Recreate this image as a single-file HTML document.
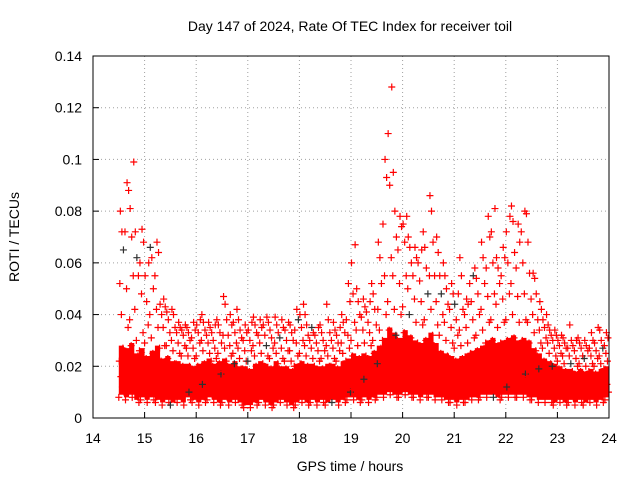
<!DOCTYPE html>
<html><head><meta charset="utf-8"><style>
body{margin:0;background:#fff;}
svg{display:block;font-family:"Liberation Sans",sans-serif;}
</style></head><body>
<svg id="chart" width="640" height="480">
<text x="350" y="31" font-size="14" text-anchor="middle">Day 147 of 2024, Rate Of TEC Index for receiver toil</text>
<text x="350" y="471" font-size="14" text-anchor="middle">GPS time / hours</text>
<text transform="translate(19,237) rotate(-90)" font-size="14" text-anchor="middle">ROTI / TECUs</text>
<g id="grid"></g><g id="marks"></g><g id="axes"></g>
</svg>
<script>
const xTicks=[14,15,16,17,18,19,20,21,22,23,24];
const yTicks=[0,0.02,0.04,0.06,0.08,0.1,0.12,0.14];
const yTickLabels=["0","0.02","0.04","0.06","0.08","0.1","0.12","0.14"];
const binStart=14.5, binWidth=0.1;
// ROTI values per 0.1 h bin, in 1e-3 TECU/min
const rotiMilli=[
[8,12,16,22,27,40,52,65,72,80],[7,10,14,19,26,35,50,72,88,91],[8,11,15,20,28,38,55,70,81,99],[6,10,13,18,24,30,42,55,62,72],[7,11,14,20,26,33,48,60,68,73],
[6,9,13,17,23,29,36,45,55,60],[7,10,14,19,25,31,40,50,62,66],[6,11,15,20,27,35,42,55,64,68],[5,9,12,17,22,28,35,40,44,46],[6,10,14,18,23,28,33,38,41,43],
[5,8,12,16,21,26,30,35,40,42],[6,9,13,17,21,25,29,33,35,37],[5,9,12,16,20,24,28,32,34,36],[7,10,13,17,20,24,27,30,33,35],[6,9,12,15,19,23,27,31,34,37],
[5,8,12,16,20,24,29,33,36,38],[6,10,13,17,21,26,30,34,37,40],[7,10,14,18,22,25,29,32,35,37],[6,9,12,16,20,23,27,30,33,36],[5,9,13,17,21,25,29,33,36,38],
[6,10,14,18,22,27,32,38,44,47],[5,8,12,16,20,24,28,32,36,40],[6,9,13,17,21,25,29,33,37,42],[5,8,11,15,19,23,27,31,34,38],[4,8,11,15,19,22,26,30,33,36],
[4,7,11,14,18,22,26,30,34,37],[5,9,12,16,20,24,28,33,36,39],[6,10,13,17,21,25,29,32,35,38],[5,8,12,16,20,24,28,32,36,39],[4,8,12,15,19,23,27,31,34,37],
[5,9,13,17,21,25,29,33,36,39],[6,9,12,16,19,23,27,31,35,38],[5,8,12,15,19,22,26,30,34,37],[4,8,11,15,18,22,26,30,33,36],[5,9,12,16,20,24,29,34,38,42],
[6,10,13,17,21,25,30,35,40,44],[5,9,12,16,20,24,28,32,36,40],[6,9,13,16,20,23,27,30,33,35],[5,8,12,15,19,22,26,29,32,35],[6,9,12,16,19,23,26,30,33,36],
[5,9,12,16,20,24,28,33,38,44],[6,9,13,16,20,23,27,30,34,37],[5,8,12,15,19,22,26,29,32,35],[6,10,13,17,21,25,29,33,37,40],[7,10,14,18,22,27,32,38,45,52],
[7,11,15,19,24,30,37,48,60,67],[6,10,14,18,23,28,34,40,45,50],[7,11,15,19,24,29,34,39,43,46],[6,10,14,18,23,28,33,37,41,45],[7,11,15,20,25,30,36,42,48,52],
[8,12,16,21,27,34,42,52,62,68],[8,12,17,22,30,40,55,75,93,100],[9,13,18,24,34,45,62,90,110,128],[8,12,17,23,32,42,55,70,80,95],[8,12,16,22,30,40,52,65,74,78],
[9,13,18,25,33,43,55,68,75,78],[8,12,17,23,31,40,50,60,66,70],[8,12,16,22,29,37,46,55,62,66],[7,11,16,21,28,36,45,53,60,65],[8,12,17,23,30,38,48,58,66,72],
[8,12,17,24,32,42,55,68,80,86],[7,11,15,21,28,36,45,55,64,70],[7,10,14,19,25,32,40,48,55,60],[6,10,14,18,24,30,37,44,50,55],[6,10,14,18,23,29,35,42,48,52],
[5,9,13,17,22,27,32,38,44,48],[6,10,14,18,23,28,34,42,55,62],[6,10,14,19,24,29,35,40,44,46],[7,11,15,20,25,31,38,45,52,55],[7,11,15,20,26,32,40,48,54,58],
[8,12,16,21,27,34,42,52,62,68],[8,12,17,22,29,37,47,58,70,78],[8,12,17,23,30,38,48,60,72,81],[7,11,16,21,28,35,44,52,58,62],[8,12,16,22,29,37,46,55,62,66],
[8,12,17,23,30,38,48,60,72,78],[8,12,17,23,31,40,52,64,76,82],[8,12,16,22,29,37,47,58,68,75],[8,12,17,23,30,38,48,60,72,80],[7,11,16,22,29,37,46,56,68,79],
[7,11,15,20,26,33,40,48,54,56],[6,10,14,19,24,29,34,38,42,45],[6,10,13,17,22,27,31,35,38,40],[6,9,13,17,21,25,29,32,34,36],[5,9,12,16,20,24,27,30,32,34],
[6,9,12,15,19,22,25,28,30,32],[5,8,11,14,18,21,24,27,29,31],[6,9,12,15,18,21,24,27,30,36],[5,8,11,14,17,20,23,26,28,30],[6,9,12,15,18,21,24,27,29,31],
[5,8,11,14,17,20,23,26,28,30],[6,9,12,15,18,21,24,27,30,33],[5,8,11,14,17,20,23,26,29,35],[6,9,12,15,18,21,24,27,30,34],[7,10,13,16,19,22,25,28,31,33]
];
const NS="http://www.w3.org/2000/svg";
const L=93,R=609,T=56,B=418;
function xs(v){return L+(v-14)/(24-14)*(R-L);}
function ys(v){return B-(v/0.14)*(B-T);}
function mk(tag,attrs,parent){const e=document.createElementNS(NS,tag);for(const k in attrs)e.setAttribute(k,attrs[k]);parent.appendChild(e);return e;}
const grid=document.getElementById('grid'),marks=document.getElementById('marks'),axes=document.getElementById('axes');
xTicks.forEach((t,i)=>{
  if(i>0&&i<xTicks.length-1){const g=mk('line',{x1:xs(t),x2:xs(t),y1:T,y2:B,stroke:'#a0a0a0','stroke-dasharray':'1,3'},grid);
  
  }
  const tk=mk('line',{x1:xs(t),x2:xs(t),y1:B,y2:B-6,stroke:'#000'},axes);
  
  
  const lb=mk('text',{x:xs(t),y:B+25,'font-size':14,'text-anchor':'middle'},axes);lb.textContent=t;
  
  
});
yTicks.forEach((t,i)=>{
  if(i>0&&i<yTicks.length-1){const g=mk('line',{x1:L,x2:R,y1:ys(t),y2:ys(t),stroke:'#a0a0a0','stroke-dasharray':'1,3'},grid);
  
  }
  const tk=mk('line',{x1:L,x2:L+6,y1:ys(t),y2:ys(t),stroke:'#000'},axes);
  
  
  const lb=mk('text',{x:L-11,y:ys(t)+5,'font-size':14,'text-anchor':'end'},axes);lb.textContent=yTickLabels[i];
  
  
});
const fr=mk('rect',{x:L,y:T,width:R-L,height:B-T,fill:'none',stroke:'#000'},axes);


// dense core band between lowest and 5th value of each bin
let up=[],dn=[];
rotiMilli.forEach((row,b)=>{const t0=binStart+b*binWidth,t1=t0+binWidth;
  const hi=row[4]+1,lo=row[0]+1;
  up.push(xs(t0)+','+ys(hi/1000),xs(t1)+','+ys(hi/1000));
  dn.unshift(xs(t1)+','+ys(lo/1000),xs(t0)+','+ys(lo/1000));});
const band=mk('polygon',{points:up.concat(dn).join(' '),fill:'#ff0000'},marks);


let n=0;
rotiMilli.forEach((row,b)=>{
  row.forEach((v,k)=>{
    const t=binStart+b*binWidth+((k*7+b*3)%10)*binWidth/10;
    const x=xs(t),y=ys(v/1000);
    const col=(n%31===7)?'#303030':'#ff0000';n++;
    const p=mk('path',{d:`M${x-3.5},${y}h7M${x},${y-3.5}v7`,stroke:col,'stroke-width':1.2,fill:'none'},marks);
    
    
  });
});
</script>
</body></html>
